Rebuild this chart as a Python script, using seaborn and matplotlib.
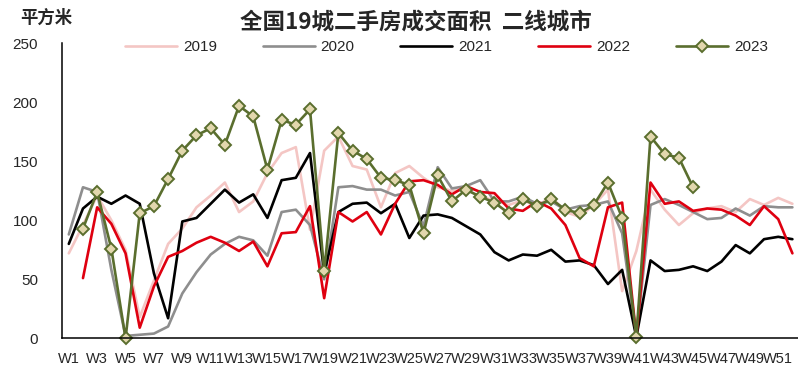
import numpy as np
import pandas as pd
import matplotlib
matplotlib.use("Agg")
import matplotlib.pyplot as plt
import seaborn as sns

nan = np.nan

# Weekly second-hand housing transaction area, 19 cities (tier-2 cities)
weeks = list(range(1, 53))
tick_weeks = list(range(1, 52, 2))
tick_labels = [f"W{w}" for w in tick_weeks]
years = ["2019", "2020", "2021", "2022", "2023"]

v2019 = [72, 96, 121, 100, 75, 18, 49, 80, 93, 111,
         121, 132, 107, 116, 140, 157, 162, 92, 159, 171,
         146, 143, 111, 140, 146, 136, 128, 125, 126, 120,
         117, 113, 117, 112, 120, 107, 103, 113, 126, 40,
         74, 126, 109, 96, 106, 110, 112, 107, 118, 113,
         119, 114]
v2020 = [88, 128, 124, 58, 2, 3, 4, 10, 38, 56,
         71, 80, 86, 83, 70, 107, 109, 96, 50, 128,
         129, 126, 126, 121, 124, 95, 145, 127, 129, 134,
         116, 116, 120, 114, 116, 109, 112, 113, 116, 89,
         1, 113, 118, 113, 107, 101, 102, 110, 104, 112,
         111, 111]
v2021 = [80, 110, 120, 114, 121, 114, 55, 17, 99, 102,
         114, 126, 115, 122, 102, 134, 136, 157, 55, 107,
         114, 115, 106, 114, 85, 104, 105, 102, 95, 88,
         73, 66, 71, 70, 75, 65, 66, 62, 46, 58,
         1, 66, 57, 58, 61, 57, 65, 79, 72, 84,
         86, 84]
v2022 = [nan, 51, 111, 97, 72, 9, 44, 69, 74, 81,
         86, 81, 74, 82, 61, 89, 90, 112, 34, 107,
         99, 107, 88, 114, 133, 134, 130, 122, 129, 124,
         123, 110, 108, 116, 110, 96, 68, 61, 111, 115,
         1, 132, 114, 116, 108, 110, 109, 104, 96, 112,
         101, 72]
v2023 = [nan, 93, 124, 76, 0, 106, 112, 135, 159, 172,
         178, 164, 197, 188, 143, 185, 181, 194, 57, 174,
         159, 152, 136, 134, 130, 89, 138, 116, 126, 120,
         115, 106, 118, 112, 118, 109, 106, 113, 132, 102,
         1, 171, 156, 153, 128, nan, nan, nan, nan, nan,
         nan, nan]

colors = {"2019": "#F4C6C4", "2020": "#8E8E8E", "2021": "#000000",
          "2022": "#DF0010", "2023": "#5A6E2E"}

sns.set_style("white")
plt.rcParams["font.family"] = ["Liberation Sans", "Noto Sans CJK SC"]

W, H = 798, 367
fig = plt.figure(figsize=(W / 100, H / 100), dpi=100)
left_px, right_px, top_px, bottom_px = 61.7, 799.5, 43.3, 338.3
ax = fig.add_axes([left_px / W, 1 - bottom_px / H,
                   (right_px - left_px) / W, (bottom_px - top_px) / H])

df = pd.DataFrame({"week": weeks, "2019": v2019, "2020": v2020, "2021": v2021,
                   "2022": v2022, "2023": v2023})
long = df.melt(id_vars="week", var_name="year", value_name="area")

for yr in years:
    sub = long[long["year"] == yr].dropna()
    kw = {}
    if yr == "2023":
        kw = dict(marker="D", markersize=6.5, markerfacecolor="#E2D7AD",
                  markeredgecolor=colors[yr], markeredgewidth=1.4)
    sns.lineplot(data=sub, x="week", y="area", color=colors[yr], linewidth=1.9,
                 label=yr, ax=ax, clip_on=False, **kw)

ax.set_xlim(0.5, 52.5)
ax.set_ylim(0, 250)
ax.set_xlabel("")
ax.set_ylabel("")

ax.set_xticks(tick_weeks)
ax.set_xticklabels(tick_labels, fontsize=10.5, family=["Liberation Sans Narrow", "Liberation Sans"])
ax.set_xticks(np.arange(0.5, 53, 1), minor=True)
ax.tick_params(axis="x", which="major", length=0, pad=10)
ax.tick_params(axis="x", which="minor", direction="in", length=4, width=1, color="black")

ax.set_yticks(range(0, 251, 50))
ax.tick_params(axis="y", direction="in", length=4, width=1, color="black", pad=17, labelsize=11)

for s in ["top", "right"]:
    ax.spines[s].set_visible(False)
for s in ["left", "bottom"]:
    ax.spines[s].set_color("black")
    ax.spines[s].set_linewidth(1.1)

handles, labels = ax.get_legend_handles_labels()
ax.legend(handles, labels, ncol=5, loc="center", bbox_to_anchor=(446.5 / W, 1 - 47 / H),
          bbox_transform=fig.transFigure, frameon=False, fontsize=11,
          handlelength=3.4, handletextpad=0.4, columnspacing=3.0, numpoints=1)

fig.text(416 / W, 1 - 22.5 / H, "全国19城二手房成交面积  二线城市", ha="center", va="center",
         fontsize=16.2, fontweight="bold", family=["Noto Sans CJK SC", "DejaVu Sans"])
fig.text(46.5 / W, 1 - 17.5 / H, "平方米", ha="center", va="center",
         fontsize=12.5, fontweight="bold", family=["Noto Sans CJK SC", "DejaVu Sans"])

fig.savefig("out.png", dpi=100)
